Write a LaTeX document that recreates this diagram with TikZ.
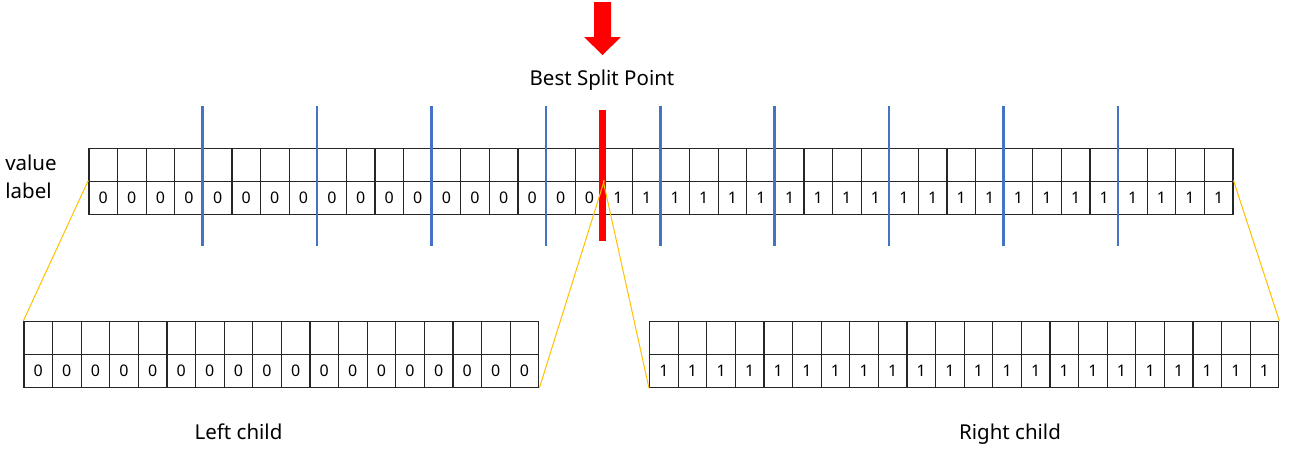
\documentclass[tikz,border=0pt]{standalone}
\usepackage{fontspec}
\setmainfont{Noto Sans}
\usetikzlibrary{positioning}
\definecolor{SplitRed}{RGB}{255,0,0}
\definecolor{BinBlue}{RGB}{68,114,196}
\definecolor{LinkGold}{RGB}{255,192,0}
\tikzset{
	cell/.style={draw=black!85, line width=1.2pt, minimum width=28.6pt, minimum height=33pt,
		inner sep=0pt, anchor=north west, font=\fontsize{16}{18}\selectfont},
	binline/.style={BinBlue, line width=2.6pt},
	splitbar/.style={SplitRed, line width=7pt},
	link/.style={LinkGold, line width=1pt},
	labeltext/.style={anchor=base, inner sep=0pt, font=\fontsize{20.5}{24}\selectfont}
}

\begin{document}
\begin{tikzpicture}[x=1pt, y=-1pt, line cap=butt, line join=miter]
	\useasboundingbox (0,0) rectangle (1294,471);
	
	% Parent node: value row and label row
	\foreach \i in {1,...,40} {
		\pgfmathtruncatemacro\bit{\i>18}
		\node[cell] (mv\i) at ({88.3+(\i-1)*28.6},147.5) {};
		\node[cell] (ml\i) at ({88.3+(\i-1)*28.6},180.5) {\bit};
	}
	\node[labeltext] (valuetxt) at (31,170) {value};
	\node[labeltext] (labeltxt) at (28.5,198.5) {label};
	
	% Left child
	\foreach \i in {1,...,18} {
		\node[cell] (lv\i) at ({23.3+(\i-1)*28.6},321) {};
		\node[cell] (ll\i) at ({23.3+(\i-1)*28.6},354) {0};
	}
	\node[labeltext] (lefttxt) at (238.5,439.3) {Left child};
	
	% Right child
	\foreach \i in {1,...,22} {
		\node[cell] (rv\i) at ({649+(\i-1)*28.6},321) {};
		\node[cell] (rl\i) at ({649+(\i-1)*28.6},354) {1};
	}
	\node[labeltext] (righttxt) at (1010,439.3) {Right child};
	
	% Candidate split points (every 4 samples)
	\foreach \k in {1,...,9}
		\draw[binline] ({88.3+4*\k*28.6},106) -- ++(0,140);
	
	% Best split point
	\fill[SplitRed] (594,2) -- (611,2) -- (611,37) -- (621,37) -- (602.5,55)
		-- (584,37) -- (594,37) -- cycle;
	\node[labeltext] (splittxt) at (602,85) {Best Split Point};
	\draw[splitbar] (602.5,110) -- (602.5,241);
	
	% Links to the children
	\draw[link] (ml1.north west) -- (lv1.north west);
	\draw[link] (ml18.north east) -- (ll18.south east);
	\draw[link] (ml19.north west) -- (rl1.south west);
	\draw[link] (ml40.north east) -- (rv22.north east);
\end{tikzpicture}
\end{document}
